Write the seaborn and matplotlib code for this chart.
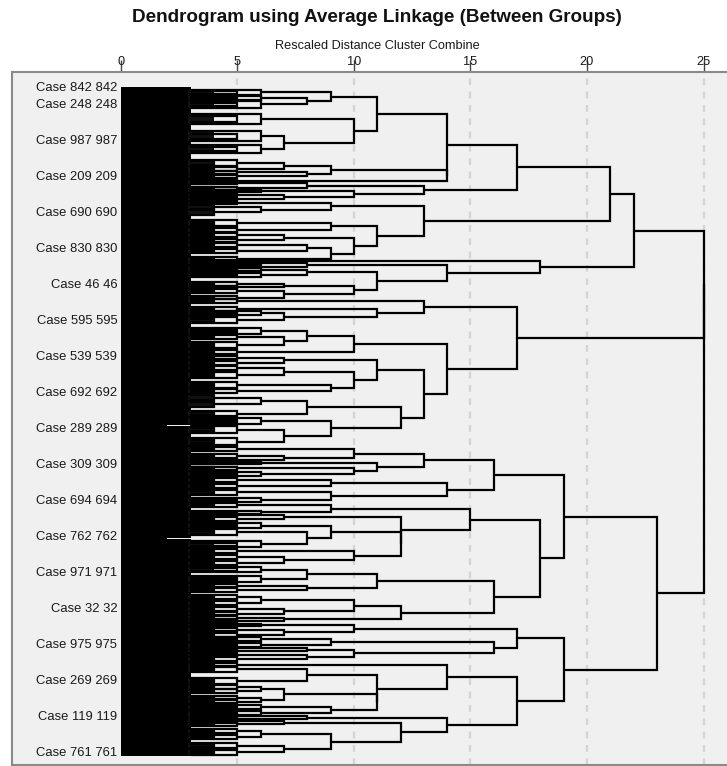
import matplotlib
matplotlib.use("Agg")
import matplotlib.pyplot as plt
import seaborn as sns
import pandas as pd

# ---------------------------------------------------------------
# Cluster tree (average linkage, rescaled distance 0-25).
# A merge is [height, left, right]; a tight sub-cluster is
# (internal height, position in case order).
# ---------------------------------------------------------------
N_CASES = 1004

A111 = [14,
        [11,
         [9, (6, 8), [8, (6, 16), (6, 26)]],
         [10, (6, 48), [7, (6, 74), (6, 93)]]],
        [14,
         [9, [7, (5, 114), (5, 123)], [8, (5, 128), (5, 134)]],
         (5, 141)]]
A112 = [13, [8, (5, 144), (5, 152)], [10, (6, 156), [7, (5, 162), (5, 168)]]]
A12 = [13,
       [9, (5, 174), [6, (4, 180), (4, 188)]],
       [11,
        [9, (5, 204), (5, 214)],
        [10, [7, (5, 222), (5, 230)], [9, [8, (5, 237), (5, 246)], (5, 258)]]]]
A2 = [18, (5, 261),
      [14,
       [8, (6, 264), (6, 270)],
       [11, [8, (6, 274), (6, 282)],
        [10, [7, (5, 296), (5, 300)], [7, (5, 306), (5, 316)]]]]]

M1 = [13, (5, 321), [11, (5, 333), [7, (6, 339), (5, 350)]]]
M2 = [14,
      [10, [8, (6, 366), [7, (5, 375), (5, 387)]], (5, 398)],
      [13,
       [11, [7, (5, 406), (5, 414)],
        [10, [7, (5, 422), (5, 432)], [9, (5, 447), (5, 456)]]],
       [12, [8, [6, (4, 466), (4, 476)], (5, 490)],
        [9, (6, 501), [7, (5, 514), (5, 532)]]]]]

B11 = [16,
       [13, [10, (5, 543), [7, (5, 554), (5, 560)]],
        [11, (6, 564), [10, (5, 572), (6, 580)]]],
       [14, [9, (5, 590), (5, 598)], [9, (5, 608), (6, 620)]]]
B121 = [15, [9, (5, 627), (6, 638)],
        [12, [7, (5, 642), (5, 648)],
         [12, [9, (6, 658), [8, (5, 668), (6, 686)]],
          [10, (5, 696), [7, (5, 705), (5, 714)]]]]]
B122 = [16, [11, [8, (6, 724), (6, 738)], [8, (5, 748), (5, 754)]],
        [12, [10, [6, (5, 765), (5, 774)], [7, (5, 783), (5, 790)]],
         [7, (5, 796), (5, 801)]]]
B21 = [17, [10, (6, 807), [7, (5, 814), (5, 822)]],
       [16, [9, (6, 828), (6, 837)],
        [10, [8, (5, 842), (5, 846)], [8, (5, 852), (5, 858)]]]]
B22 = [17,
       [14, (5, 867),
        [11, [8, (5, 873), (5, 891)],
         [11, [7, [6, (5, 900), (5, 906)], [6, (5, 916), (5, 922)]],
          [9, (6, 930), (6, 939)]]]],
       [14, [8, (5, 944), (5, 948)],
        [12, [7, (5, 951), (5, 956)],
         [9, [6, (5, 966), (5, 975)], [7, (5, 988), (5, 998)]]]]]

branch_a = [22, [21, [17, A111, A112], A12], A2]
branch_m = [17, M1, M2]
branch_b = [23, [19, B11, [18, B121, B122]], [19, B21, B22]]
root = [25, [25, branch_a, branch_m], branch_b]

case_labels = ["Case 842 842", "Case 248 248", "Case 987 987", "Case 209 209",
               "Case 690 690", "Case 830 830", "Case 46 46", "Case 595 595",
               "Case 539 539", "Case 692 692", "Case 289 289", "Case 309 309",
               "Case 694 694", "Case 762 762", "Case 971 971", "Case 32 32",
               "Case 975 975", "Case 269 269", "Case 119 119", "Case 761 761"]
label_rows = [1, 27, 81, 135, 189, 243, 297, 351, 405, 459, 513, 567, 621,
              675, 729, 783, 837, 891, 945, 999]
distance_ticks = [0, 5, 10, 15, 20, 25]


# ---------------------------------------------------------------
def walk(node, links, leaves):
    """Collect U-shaped links; return (row, height) of the node."""
    if isinstance(node, tuple):
        leaves.append(node)
        return node[1], node[0]
    h, a, b = node
    ra, ha = walk(a, links, leaves)
    rb, hb = walk(b, links, leaves)
    links.append([(ha, ra), (h, ra), (h, rb), (hb, rb)])
    return (ra + rb) / 2.0, h


links, leaves = [], []
walk(root, links, leaves)

# brackets standing for the dense structure inside each sub-cluster
rows = [r for _, r in leaves]
spans, cores = [], []
for i, (h, r) in enumerate(leaves):
    s = 0 if i == 0 else (rows[i - 1] + r) / 2.0
    e = N_CASES - 1 if i == len(leaves) - 1 else (r + rows[i + 1]) / 2.0
    spans.append((s, e))
    k = 0.33 * (e - s)
    cores.append((r - k, r + k))
    links.append([(3, r - k), (h, r - k), (h, r + k), (3, r + k)])
    if h >= 5:
        j = 0.5 * k
        links.append([(3, r - j), (h - 1, r - j), (h - 1, r + j), (3, r + j)])

records = []
for sid, pts in enumerate(links):
    for x, y in pts:
        records.append({"x": x, "y": y, "seg": sid})
df = pd.DataFrame(records)

sns.set_theme(style="white")
plt.rcParams["font.family"] = ["Liberation Sans", "DejaVu Sans"]

fig = plt.figure(figsize=(7.27, 7.66), dpi=100)
ax = fig.add_axes([12 / 727, 1 / 766, 716 / 727, 693 / 766])
ax.set_facecolor("#f0f0f0")

# dashed reference lines
for t in distance_ticks[1:]:
    ax.axvline(t, color="#d4d4d4", lw=1.6, ls=(0, (3, 3)), zorder=0)

# dense low-level merges
ax.fill_betweenx([0, N_CASES - 1], 0, 2.0, color="black", lw=0, zorder=1)
for (s, e) in spans:
    gap = 0.25 if e - s > 12 else 0.0
    ax.fill_betweenx([s + gap, e - gap], 1.9, 3.0, color="black",
                     lw=0, zorder=1)
for (a, b) in cores:
    ax.fill_betweenx([a, b], 2.9, 4.0, color="#111111", lw=0, zorder=1)

sns.lineplot(data=df, x="x", y="y", units="seg", estimator=None, sort=False,
             color="black", linewidth=1.6, ax=ax, zorder=2)
for ln in ax.lines:
    ln.set_solid_joinstyle("miter")

for name, r in zip(case_labels, label_rows):
    ax.text(-0.15, r, name, ha="right", va="center", fontsize=9.4,
            color="#1a1a1a")

ax.set_xlim(-4.67, 26.05)
ax.set_ylim(1017, -22.5)
ax.set_xlabel("")
ax.set_ylabel("")
ax.set_yticks([])
ax.xaxis.tick_top()
ax.set_xticks(distance_ticks)
ax.set_xticklabels([str(t) for t in distance_ticks])
ax.tick_params(axis="x", top=True, bottom=False, length=9, width=1,
               color="#444444", pad=-6, labelsize=9.2, labelcolor="#1a1a1a")
for sp in ax.spines.values():
    sp.set_color("#8a8a8a")
    sp.set_linewidth(1.5)
ax.spines["right"].set_visible(False)

fig.text(0.518, 1 - 18 / 766, "Dendrogram using Average Linkage (Between Groups)",
         ha="center", va="center", fontsize=13.6, fontweight="bold",
         color="#111111")
fig.text(0.519, 1 - 46 / 766, "Rescaled Distance Cluster Combine",
         ha="center", va="center", fontsize=9.2, color="#1a1a1a")

fig.savefig("out.png", dpi=100, facecolor="white")
